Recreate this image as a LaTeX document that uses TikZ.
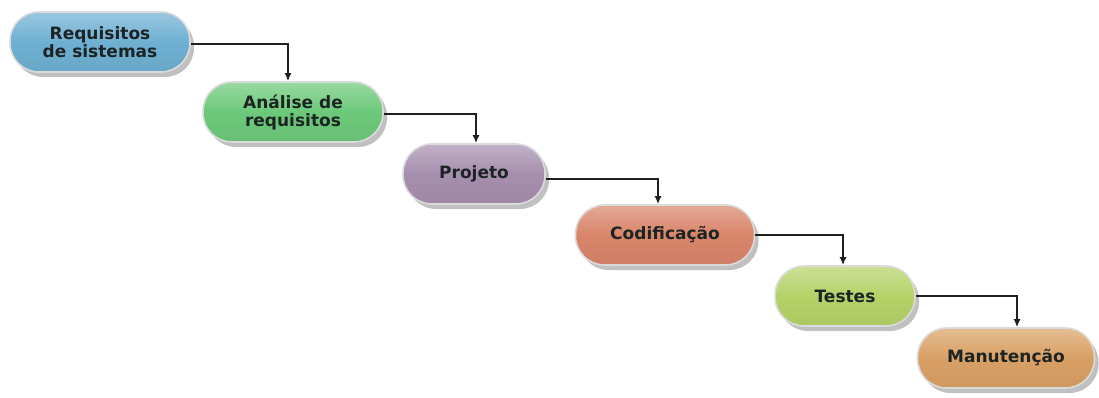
\documentclass[tikz,border=0pt]{standalone}
\usepackage{fontspec}
\newfontfamily\boxfont{DejaVu Sans}
\usetikzlibrary{arrows.meta,shadows,calc}
\definecolor{cblue}{HTML}{6FB0D2}
\definecolor{cgreen}{HTML}{6DC97A}
\definecolor{cpurple}{HTML}{A68FAE}
\definecolor{csalmon}{HTML}{D9856A}
\definecolor{clime}{HTML}{B5D268}
\definecolor{ctan}{HTML}{D9A065}
\definecolor{ctext}{HTML}{1C2424}
\tikzset{
  phase/.style={draw=black!14, line width=1.6pt, rounded corners=29pt,
    minimum height=60pt, inner sep=0pt, align=center,
    font=\boxfont\bfseries\fontsize{17}{18}\selectfont, text=ctext,
    top color=#1!70!white, bottom color=#1!95!black, middle color=#1,
    drop shadow={shadow xshift=4pt, shadow yshift=-5pt, fill=black!45, opacity=0.55}},
  link/.style={draw=black!88, line width=1.6pt, -{Latex[length=8pt,width=7pt]}}
}
\begin{document}
\begin{tikzpicture}[x=1pt,y=-1pt]
\useasboundingbox (0,0) rectangle (1099,398);
\node[phase=cblue,   minimum width=180pt] (n1) at (100,42)  {Requisitos\\de sistemas};
\node[phase=cgreen,  minimum width=180pt] (n2) at (293,112) {Análise de\\requisitos};
\node[phase=cpurple, minimum width=142pt] (n3) at (474,174) {Projeto};
\node[phase=csalmon, minimum width=179pt] (n4) at (665,235) {Codificação};
\node[phase=clime,   minimum width=140pt] (n5) at (845,296) {Testes};
\node[phase=ctan,    minimum width=177pt] (n6) at (1006,358) {Manutenção};
\draw[link] ([yshift=-2pt]n1.east) -| ([xshift=-5pt]n2.north);
\draw[link] ([yshift=-2pt]n2.east) -| ([xshift=2pt]n3.north);
\draw[link] ([yshift=-5pt]n3.east) -| ([xshift=-7pt]n4.north);
\draw[link] (n4.east) -| ([xshift=-2pt]n5.north);
\draw[link] (n5.east) -| ([xshift=11pt]n6.north);
\end{tikzpicture}
\end{document}
